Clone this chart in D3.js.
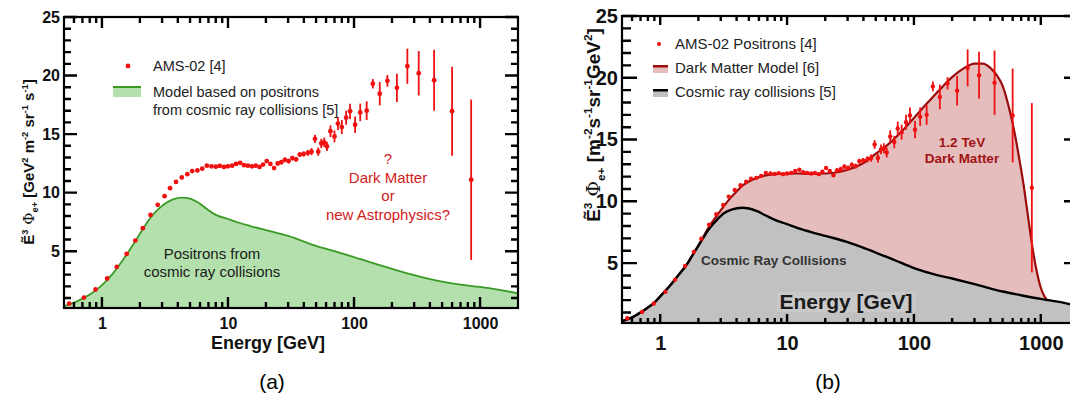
<!DOCTYPE html>
<html lang="en">
	<head>
		<meta charset="utf-8">
		<title>Positron flux: AMS-02 vs models</title>
		<script type="text/javascript" src="https://cdn.jsdelivr.net/npm/d3@7"></script>
		<style type="text/css">
			body { margin: 0; background: #fff; }
			svg text { font-family: "Liberation Sans", Arial, sans-serif; }
			.tick text { font-weight: bold; fill: #111; }
		</style>
	</head>
	<body>
		<script type="text/javascript">

			var w = 1070;
			var h = 403;

			// Tick values
			var majorX = [1, 10, 100, 1000];
			var minorX = [0.6, 0.7, 0.8, 0.9, 2, 3, 4, 5, 6, 7, 8, 9, 20, 30, 40, 50, 60, 70, 80, 90,
			              200, 300, 400, 500, 600, 700, 800, 900];
			var majorY = [5, 10, 15, 20, 25];
			var minorY = [1, 2, 3, 4, 6, 7, 8, 9, 11, 12, 13, 14, 16, 17, 18, 19, 21, 22, 23, 24];

			// AMS-02 positron data (energy GeV, E^3 flux, error)
			var amsEnergy = [0.55, 0.72, 0.89, 1.10, 1.31, 1.57, 1.84, 2.11, 2.43, 2.77, 3.14, 3.47, 3.87,
			                 4.30, 4.76, 5.20, 5.72, 6.25, 6.80, 7.40, 8.0, 8.6, 9.3, 10.0, 10.8, 11.6,
			                 12.5, 13.4, 14.4, 15.5, 16.6, 17.8, 19.0, 20.3, 21.7, 23.2, 24.8, 26.5, 28.3,
			                 30.3, 32.4, 34.7, 37.1, 39.8, 43, 46, 49, 52, 55, 58, 61, 65, 70, 74.5, 80,
			                 86.6, 93, 102, 112, 126, 141, 160, 184, 219, 265, 326, 432, 600, 850];
			var amsFlux = [0.53, 1.04, 1.73, 2.67, 3.66, 4.77, 5.91, 6.97, 8.10, 8.96, 9.70, 10.38, 10.92,
			               11.30, 11.58, 11.84, 11.90, 12.05, 12.30, 12.25, 12.22, 12.28, 12.20, 12.25, 12.30, 12.45,
			               12.55, 12.35, 12.30, 12.25, 12.30, 12.20, 12.40, 12.70, 12.45, 12.10, 12.50, 12.60, 12.80,
			               12.70, 12.95, 12.85, 13.25, 13.30, 13.40, 13.50, 14.60, 13.50, 14.20, 14.30, 13.95, 15.25, 14.80, 15.90, 15.60,
			               16.40, 16.95, 15.80, 16.85, 17.00, 19.30, 18.45, 19.55, 18.95, 20.80, 20.20, 19.60, 16.95, 11.10];
			var amsError = [0.05, 0.05, 0.05, 0.05, 0.05, 0.05, 0.05, 0.05, 0.05, 0.05, 0.05, 0.05, 0.05,
			                0.08, 0.08, 0.08, 0.08, 0.08, 0.08, 0.08, 0.08, 0.08, 0.08, 0.08, 0.12, 0.12,
			                0.12, 0.12, 0.12, 0.12, 0.12, 0.12, 0.12, 0.12, 0.12, 0.12, 0.2, 0.2, 0.2,
			                0.2, 0.2, 0.2, 0.2, 0.2, 0.25, 0.3, 0.35, 0.35, 0.4, 0.4, 0.4, 0.5, 0.5, 0.55, 0.6,
			                0.6, 0.65, 0.7, 0.75, 0.8, 0.4, 1.0, 0.5, 1.2, 1.5, 1.9, 2.6, 3.8, 6.85];

			// Cosmic ray collision model, panel (a)
			var cosmicAEnergy = [0.5, 0.6, 0.7, 0.8, 0.9, 1.0, 1.2, 1.4, 1.6, 1.85, 2.1, 2.4, 2.8, 3.2, 3.7, 4.3, 5.0,
			                     5.8, 6.8, 8, 10, 12, 15, 20, 30, 50, 70, 100, 150, 200, 300, 500, 700, 1000, 1500, 2000];
			var cosmicAFlux = [0.3, 0.6, 0.95, 1.3, 1.7, 2.1, 3.0, 3.95, 4.85, 5.9, 6.85, 7.8, 8.6, 9.1, 9.45, 9.58, 9.5,
			                   9.15, 8.6, 8.1, 7.75, 7.45, 7.15, 6.8, 6.3, 5.45, 5.0, 4.5, 3.9, 3.5, 2.95, 2.4, 2.15, 1.95, 1.65, 1.4];

			// Cosmic ray collision model, panel (b)
			var cosmicBEnergy = [0.5, 0.6, 0.7, 0.8, 0.9, 1.0, 1.2, 1.4, 1.6, 1.85, 2.1, 2.4, 2.8, 3.2, 3.7, 4.4, 5.0,
			                     5.8, 6.8, 8, 10, 12, 15, 20, 30, 50, 70, 100, 150, 200, 300, 500, 700, 1000, 1500, 2000];
			var cosmicBFlux = [0.3, 0.6, 1.0, 1.4, 1.8, 2.3, 3.2, 4.05, 4.8, 5.85, 6.75, 7.7, 8.5, 9.05, 9.35, 9.48, 9.42,
			                   9.2, 8.85, 8.5, 8.15, 7.85, 7.55, 7.2, 6.7, 5.85, 5.25, 4.6, 4.05, 3.75, 3.3, 2.7, 2.4, 2.1, 1.8, 1.5];

			// Dark matter model (total), panel (b)
			var dmEnergy = [0.5, 0.6, 0.7, 0.8, 0.9, 1.0, 1.2, 1.4, 1.6, 1.85, 2.1, 2.4, 2.8, 3.2, 3.6, 4.0, 4.5, 5, 6, 7, 8,
			                10, 12, 15, 20, 25, 30, 40, 50, 60, 80, 100, 130, 160, 200, 250, 300, 350, 400, 450, 500,
			                570, 620, 680, 730, 780, 820, 870, 930, 1000, 1070, 1135, 1500, 2000];
			var dmFlux = [0.3, 0.6, 1.0, 1.4, 1.8, 2.3, 3.2, 4.05, 4.8, 5.85, 6.8, 7.85, 8.85, 9.65, 10.3, 10.8, 11.3, 11.6, 11.95, 12.12, 12.2,
			              12.25, 12.25, 12.22, 12.25, 12.35, 12.55, 13.1, 13.85, 14.45, 15.65, 16.75, 18.05, 19.05, 20.05, 20.8, 21.15, 21.15, 20.8, 20.2, 19.35,
			              17.3, 15.6, 13.3, 11.4, 9.3, 7.7, 5.9, 4.3, 3.0, 2.3, 1.95, 1.8, 1.5];

			var ams = amsEnergy.map(function(e, i) { return [e, amsFlux[i], amsError[i]]; });
			var cosmicA = cosmicAEnergy.map(function(e, i) { return [e, cosmicAFlux[i]]; });
			var cosmicB = cosmicBEnergy.map(function(e, i) { return [e, cosmicBFlux[i]]; });
			var dm = dmEnergy.map(function(e, i) { return [e, dmFlux[i]]; });

			var svg = d3.select("body")
						.append("svg")
						.attr("width", w)
						.attr("height", h);

			// write text with superscripts / subscripts
			function richText(sel, parts, size) {
				var shift = 0;
				parts.forEach(function(p) {
					var target = p[1] == "sup" ? -0.4 * size : (p[1] == "sub" ? 0.25 * size : 0);
					var t = sel.append("tspan")
						.attr("dy", target - shift)
						.text(p[0]);
					if (p[1]) t.attr("font-size", size * 0.62);
					if (p[2]) t.attr("font-family", p[2]).attr("font-weight", "normal");
					shift = target;
				});
			}

			// frame and axis labels
			function drawFrame(g, x, y, opt) {
				var x0 = x.range()[0], x1 = x.range()[1];
				var y0 = y.range()[0], y1 = y.range()[1];

				g.append("g").attr("transform", "translate(0," + y0 + ")")
					.call(d3.axisBottom(x).tickValues(majorX).tickSize(0).tickPadding(opt.xPad).tickFormat(d3.format("d")))
					.call(function(a) { a.select(".domain").remove(); a.selectAll("text").attr("font-size", opt.font); });
				g.append("g").attr("transform", "translate(" + x0 + ",0)")
					.call(d3.axisLeft(y).tickValues(majorY).tickSize(0).tickPadding(opt.yPad))
					.call(function(a) { a.select(".domain").remove(); a.selectAll("text").attr("font-size", opt.font); });

				g.append("rect")
					.attr("x", x0).attr("y", y1)
					.attr("width", x1 - x0).attr("height", y0 - y1)
					.attr("fill", "none").attr("stroke", "#000").attr("stroke-width", 2.2);
			}

			// inward ticks on all four sides, as one path
			function tickPath(x, y, opt) {
				var x0 = x.range()[0], x1 = x.range()[1];
				var y0 = y.range()[0], y1 = y.range()[1];
				var p = d3.path();
				majorX.map(function(v) { return [v, opt.xMajor]; })
					.concat(minorX.map(function(v) { return [v, opt.xMinor]; }))
					.forEach(function(d) {
						var px = x(d[0]);
						p.moveTo(px, y0); p.lineTo(px, y0 - d[1]);
						p.moveTo(px, y1); p.lineTo(px, y1 + d[1]);
					});
				majorY.map(function(v) { return [v, opt.yMajor]; })
					.concat(minorY.map(function(v) { return [v, opt.yMinor]; }))
					.forEach(function(d) {
						var py = y(d[0]);
						p.moveTo(x0, py); p.lineTo(x0 + d[1], py);
						p.moveTo(x1, py); p.lineTo(x1 - d[1], py);
					});
				return p.toString();
			}

			function drawData(g, x, y, r) {
				g.selectAll(".err")
					.data(ams)
					.enter()
					.append("line")
					.attr("x1", function(d) { return x(d[0]); })
					.attr("x2", function(d) { return x(d[0]); })
					.attr("y1", function(d) { return y(d[1] - d[2]); })
					.attr("y2", function(d) { return y(d[1] + d[2]); })
					.attr("stroke", "#f01010")
					.attr("stroke-width", 1.8);
				g.selectAll(".pt")
					.data(ams)
					.enter()
					.append("circle")
					.attr("cx", function(d) { return x(d[0]); })
					.attr("cy", function(d) { return y(d[1]); })
					.attr("r", r)
					.attr("fill", "#f01010");
			}

			// ~~~~~~~~~~~~~~~~~~~ panel (a) ~~~~~~~~~~~~~~~~~~~
			var xA = d3.scaleLog().domain([0.5, 2000]).range([64, 518]);
			var yA = d3.scaleLinear().domain([0.15, 25]).range([308, 17]);
			var optA = { xMajor: 11, xMinor: 6, yMajor: 13, yMinor: 7, font: 16, xPad: 10, yPad: 4 };
			var gA = svg.append("g");

			svg.append("clipPath").attr("id", "clipA")
				.append("rect").attr("x", 64).attr("y", 17).attr("width", 454).attr("height", 291);

			var areaA = d3.area()
				.x(function(d) { return xA(d[0]); })
				.y0(yA(0.15))
				.y1(function(d) { return yA(d[1]); })
				.curve(d3.curveMonotoneX);
			var lineA = d3.line()
				.x(function(d) { return xA(d[0]); })
				.y(function(d) { return yA(d[1]); })
				.curve(d3.curveMonotoneX);

			var plotA = gA.append("g").attr("clip-path", "url(#clipA)");
			plotA.append("path").datum(cosmicA).attr("d", areaA).attr("fill", "#b4e0ae");
			plotA.append("path").datum(cosmicA).attr("d", lineA)
				.attr("fill", "none").attr("stroke", "#3a9a25").attr("stroke-width", 1.8);
			drawData(plotA, xA, yA, 2.4);

			drawFrame(gA, xA, yA, optA);

			gA.append("text").attr("x", 268).attr("y", 349)
				.attr("text-anchor", "middle").attr("font-size", 18).attr("font-weight", "bold")
				.attr("fill", "#111").text("Energy [GeV]");

			var titleA = gA.append("text")
				.attr("transform", "translate(34,162) rotate(-90)")
				.attr("text-anchor", "middle").attr("font-size", 15).attr("font-weight", "bold").attr("fill", "#111");
			richText(titleA, [["E\u0303", ""], ["3", "sup"], [" \u03A6", "", "DejaVu Serif"], ["e", "sub"], ["+", "sub"],
				[" [GeV", ""], ["2", "sup"], [" m", ""], ["-2", "sup"], [" sr", ""], ["-1", "sup"], [" s", ""], ["-1", "sup"], ["]", ""]], 15);

			// legend (a)
			gA.append("circle").attr("cx", 128).attr("cy", 66).attr("r", 2.4).attr("fill", "#f01010");
			gA.append("text").attr("x", 153).attr("y", 71).attr("font-size", 14.5).attr("fill", "#222").text("AMS-02 [4]");
			gA.append("rect").attr("x", 113).attr("y", 87).attr("width", 28).attr("height", 10).attr("fill", "#b4e0ae");
			gA.append("rect").attr("x", 113).attr("y", 86).attr("width", 28).attr("height", 2).attr("fill", "#3a9a25");
			gA.append("text").attr("x", 153).attr("y", 97).attr("font-size", 14.5).attr("fill", "#222").text("Model based on positrons");
			gA.append("text").attr("x", 153).attr("y", 115).attr("font-size", 14.5).attr("fill", "#222").text("from cosmic ray collisions [5]");

			// annotations (a)
			var noteA = ["?", "Dark Matter", "or", "new Astrophysics?"];
			gA.selectAll(".note")
				.data(noteA)
				.enter()
				.append("text")
				.attr("x", 388)
				.attr("y", function(d, i) { return 164 + i * 18.5; })
				.attr("text-anchor", "middle").attr("font-size", 15).attr("fill", "#d42020")
				.text(function(d) { return d; });
			gA.append("text").attr("x", 212).attr("y", 259).attr("text-anchor", "middle")
				.attr("font-size", 15).attr("fill", "#1a1a1a").text("Positrons from");
			gA.append("text").attr("x", 212).attr("y", 277).attr("text-anchor", "middle")
				.attr("font-size", 15).attr("fill", "#1a1a1a").text("cosmic ray collisions");

			svg.append("text").attr("x", 272).attr("y", 389).attr("text-anchor", "middle")
				.attr("font-family", "Liberation Serif").attr("font-size", 21).text("(a)");

			// ~~~~~~~~~~~~~~~~~~~ panel (b) ~~~~~~~~~~~~~~~~~~~
			var xB = d3.scaleLog().domain([0.5, 2000]).range([622, 1079]);
			var yB = d3.scaleLinear().domain([0.15, 25]).range([323, 16]);
			var optB = { xMajor: 9, xMinor: 5, yMajor: 15, yMinor: 9, font: 20, xPad: 13, yPad: 4 };
			var gB = svg.append("g");

			svg.append("clipPath").attr("id", "clipB")
				.append("rect").attr("x", 622).attr("y", 16).attr("width", 457).attr("height", 307);

			var areaB = d3.area()
				.x(function(d) { return xB(d[0]); })
				.y0(yB(0.15))
				.y1(function(d) { return yB(d[1]); })
				.curve(d3.curveMonotoneX);
			var lineB = d3.line()
				.x(function(d) { return xB(d[0]); })
				.y(function(d) { return yB(d[1]); })
				.curve(d3.curveMonotoneX);

			var plotB = gB.append("g").attr("clip-path", "url(#clipB)");
			plotB.append("path").datum(dm).attr("d", areaB).attr("fill", "#e6bdbd");
			plotB.append("path").datum(cosmicB).attr("d", areaB).attr("fill", "#c1c1c1");
			plotB.append("path").datum(dm.filter(function(d) { return d[0] <= 1135; })).attr("d", lineB)
				.attr("fill", "none").attr("stroke", "#9c0b0b").attr("stroke-width", 2.2);
			plotB.append("path").datum(cosmicB).attr("d", lineB)
				.attr("fill", "none").attr("stroke", "#000").attr("stroke-width", 2.4);
			drawData(plotB, xB, yB, 2.2);

			drawFrame(gB, xB, yB, optB);

			// axis title inside the plot on a grey box
			gB.append("rect").attr("x", 777).attr("y", 292).attr("width", 139).attr("height", 20).attr("fill", "#c9c9c9");
			gB.append("text").attr("x", 846).attr("y", 309)
				.attr("text-anchor", "middle").attr("font-size", 21).attr("font-weight", "bold")
				.attr("fill", "#1a1a1a").text("Energy [GeV]");

			var titleB = gB.append("text")
				.attr("transform", "translate(600,125) rotate(-90)")
				.attr("text-anchor", "middle").attr("font-size", 19).attr("font-weight", "bold").attr("fill", "#111");
			richText(titleB, [["E\u0303", ""], ["3", "sup"], [" \u03A6", "", "DejaVu Serif"], ["e", "sub"], ["+", "sub"],
				[" [m", ""], ["-2", "sup"], ["s", ""], ["-1", "sup"], ["sr", ""], ["-1", "sup"], ["GeV", ""], ["2", "sup"], ["]", ""]], 19);

			// legend (b)
			gB.append("circle").attr("cx", 659).attr("cy", 44).attr("r", 2).attr("fill", "#f01010");
			gB.append("text").attr("x", 675).attr("y", 49).attr("font-size", 15).attr("fill", "#222").text("AMS-02 Positrons [4]");
			gB.append("rect").attr("x", 653).attr("y", 66).attr("width", 15).attr("height", 7).attr("fill", "#e6bdbd");
			gB.append("rect").attr("x", 653).attr("y", 65).attr("width", 15).attr("height", 2.5).attr("fill", "#9c0b0b");
			gB.append("text").attr("x", 675).attr("y", 73).attr("font-size", 15).attr("fill", "#222").text("Dark Matter Model [6]");
			gB.append("rect").attr("x", 653).attr("y", 90).attr("width", 15).attr("height", 7).attr("fill", "#c1c1c1");
			gB.append("rect").attr("x", 653).attr("y", 89).attr("width", 15).attr("height", 2.5).attr("fill", "#000");
			gB.append("text").attr("x", 675).attr("y", 97).attr("font-size", 15).attr("fill", "#222").text("Cosmic ray collisions [5]");

			// annotations (b)
			gB.append("text").attr("x", 962).attr("y", 147).attr("text-anchor", "middle")
				.attr("font-size", 13.5).attr("font-weight", "bold").attr("fill", "#a01212").text("1.2 TeV");
			gB.append("text").attr("x", 962).attr("y", 163).attr("text-anchor", "middle")
				.attr("font-size", 13.5).attr("font-weight", "bold").attr("fill", "#a01212").text("Dark Matter");
			gB.append("text").attr("x", 701).attr("y", 265)
				.attr("font-size", 13.5).attr("font-weight", "bold").attr("fill", "#333").text("Cosmic Ray Collisions");

			svg.append("text").attr("x", 828).attr("y", 389).attr("text-anchor", "middle")
				.attr("font-family", "Liberation Serif").attr("font-size", 21).text("(b)");

			// tick marks on top of everything
			svg.append("path").attr("d", tickPath(xA, yA, optA))
				.attr("fill", "none").attr("stroke", "#000").attr("stroke-width", 2.4);
			svg.append("path").attr("d", tickPath(xB, yB, optB))
				.attr("fill", "none").attr("stroke", "#000").attr("stroke-width", 2.4);

		</script>
	</body>
</html>
